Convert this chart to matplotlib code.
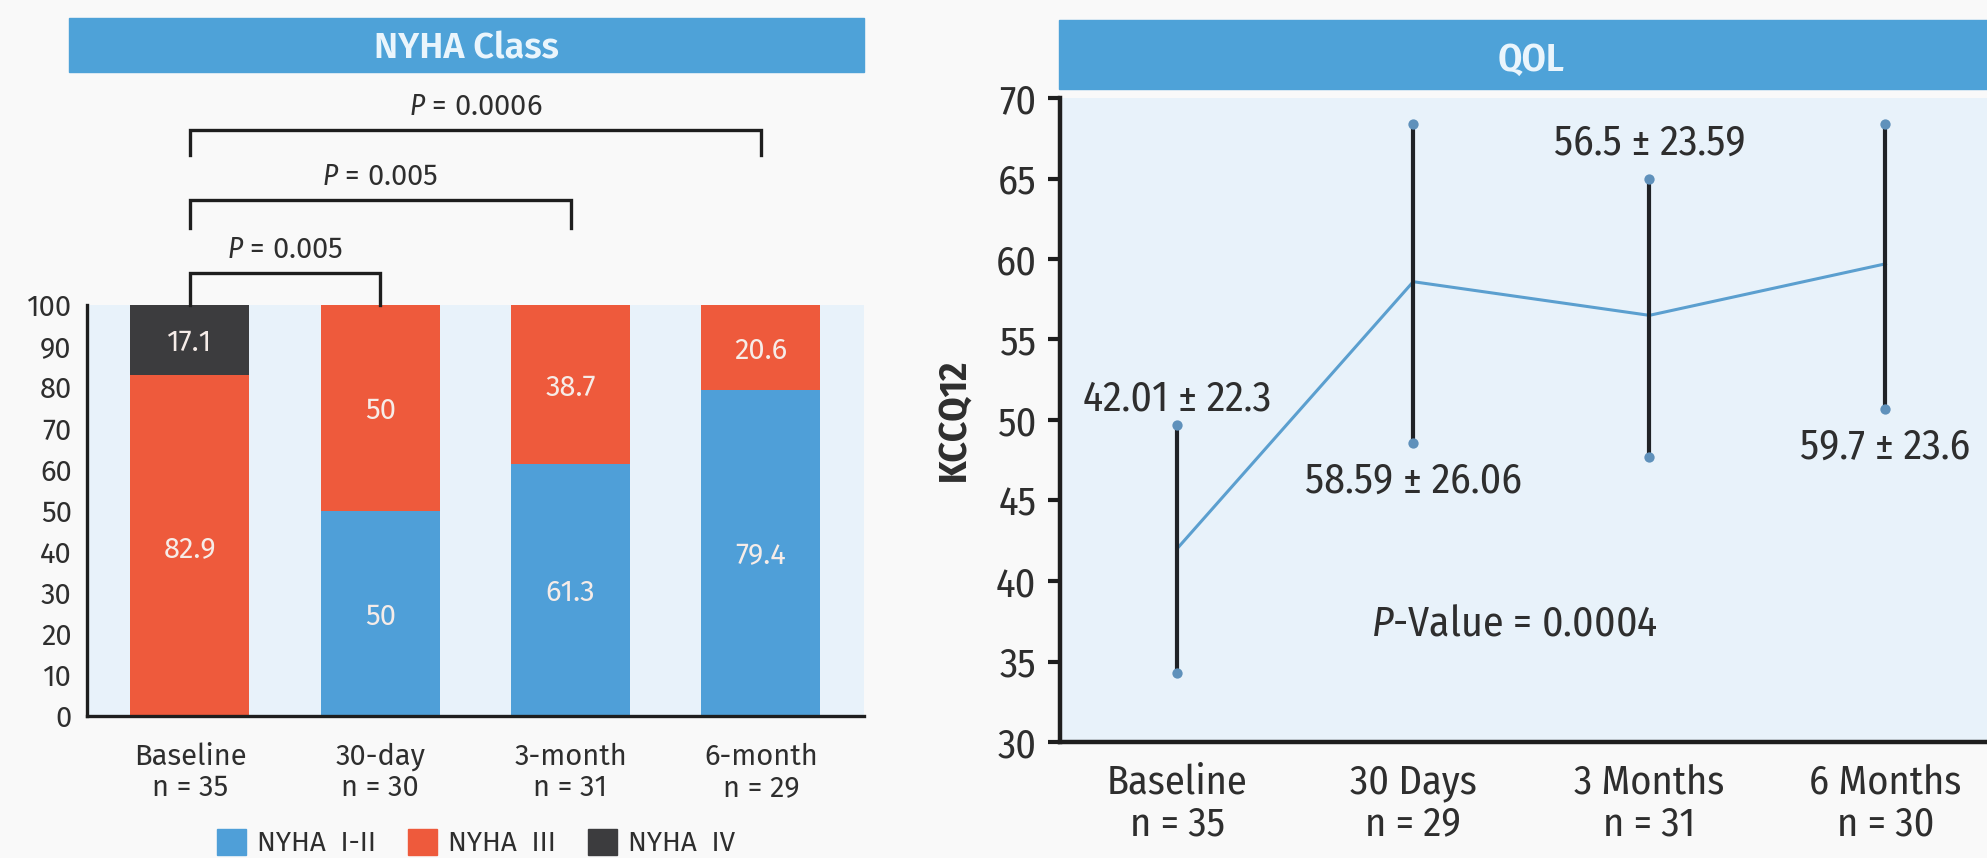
import matplotlib
matplotlib.use("Agg")
import matplotlib.pyplot as plt
from matplotlib.patches import Rectangle, Patch

WIDE = ["Fira Sans", "DejaVu Sans"]
COND = ["Fira Sans Condensed", "DejaVu Sans"]
plt.rcParams["font.family"] = COND
plt.rcParams["mathtext.fontset"] = "custom"
plt.rcParams["mathtext.rm"] = "Fira Sans Condensed"
plt.rcParams["mathtext.it"] = "Fira Sans Condensed:italic"

# NYHA class (% of patients)
nyha_cats = ["Baseline\nn = 35", "30-day\nn = 30", "3-month\nn = 31", "6-month\nn = 29"]
nyha_1_2 = [0, 50, 61.3, 79.4]
nyha_3 = [82.9, 50, 38.7, 20.6]
nyha_4 = [17.1, 0, 0, 0]
nyha_names = ["NYHA  I-II", "NYHA  III", "NYHA  IV"]

# pairwise comparisons vs baseline
p_pairs = [(0, 3), (0, 2), (0, 1)]
p_texts = ["0.0006", "0.005", "0.005"]

# KCCQ12 quality of life
qol_cats = ["Baseline\nn = 35", "30 Days\nn = 29", "3 Months\nn = 31", "6 Months\nn = 30"]
kccq_mean = [42.01, 58.59, 56.5, 59.7]
kccq_sd = [22.3, 26.06, 23.59, 23.6]
kccq_low = [34.3, 48.6, 47.7, 50.7]
kccq_high = [49.7, 68.4, 65.0, 68.4]
qol_p = "0.0004"

BLUE = "#4f9fd8"
RED = "#ee5a3c"
DARK = "#3c3c3e"
BG = "#e8f2fa"
TXT = "#2e2e2e"

W, H = 1987, 858
fig = plt.figure(figsize=(W / 100, H / 100), dpi=100, facecolor="#f9f9f9")


def fx(px):
    return px / W


def fy(py):
    return 1 - py / H


# ---------- left: NYHA class ----------
ax1 = fig.add_axes([fx(87), fy(716), fx(864 - 87), (716 - 305) / H])
ax1.set_facecolor(BG)
x = range(len(nyha_cats))
bw = 0.625
ax1.bar(x, nyha_1_2, bw, color=BLUE, zorder=2)
ax1.bar(x, nyha_3, bw, bottom=nyha_1_2, color=RED, zorder=2)
bottom4 = [a + b for a, b in zip(nyha_1_2, nyha_3)]
ax1.bar(x, nyha_4, bw, bottom=bottom4, color=DARK, zorder=2)

for i in x:
    segs = [(0, nyha_1_2[i]), (nyha_1_2[i], nyha_3[i]), (bottom4[i], nyha_4[i])]
    for lo, h in segs:
        if h > 0:
            ax1.text(i, lo + h / 2, f"{h:g}", ha="center", va="center_baseline",
                     color="#f6ece8", fontsize=21, family=WIDE)

ax1.set_xlim(-0.541, 3.542)
ax1.set_ylim(0, 100)
ax1.set_yticks(range(0, 101, 10))
ax1.set_xticks(list(x))
ax1.set_xticklabels(nyha_cats, linespacing=1.1, family=WIDE)
ax1.set_yticklabels([str(v) for v in range(0, 101, 10)], family=WIDE)
ax1.tick_params(axis="y", length=0, pad=11, labelsize=21, labelcolor=TXT)
ax1.tick_params(axis="x", length=0, pad=19, labelsize=21, labelcolor=TXT)
for s in ["top", "right"]:
    ax1.spines[s].set_visible(False)
for s in ["left", "bottom"]:
    ax1.spines[s].set_linewidth(2.4)
    ax1.spines[s].set_color("#1e1e1e")

# significance brackets
br_top = [142.6, 125.5, 107.8]
br_leg = [136.5, 118.7, 100]
for (a, b), t, yt, yl in zip(p_pairs, p_texts, br_top, br_leg):
    ax1.plot([a, a, b, b], [yl, yt, yt, yl], color="#1e1e1e", lw=2.4,
             clip_on=False, solid_joinstyle="miter")
    ax1.text((a + b) / 2, yt + 2.2, rf"$\it{{P}}$ = {t}", ha="center",
             va="bottom", fontsize=21, color=TXT, clip_on=False, family=WIDE)

handles = [Patch(color=c) for c in (BLUE, RED, DARK)]
fig.legend(handles, nyha_names, loc="center", bbox_to_anchor=(fx(476), fy(843)),
           ncol=3, frameon=False, prop={"family": WIDE, "size": 20},
           handlelength=1.05, handleheight=1.05,
           handletextpad=0.4, columnspacing=1.15, labelcolor=TXT)

fig.patches.append(Rectangle((fx(69), fy(72)), fx(864 - 69), 54 / H,
                             transform=fig.transFigure, color="#4ea2d8"))
fig.text(fx(466), fy(45), "NYHA Class", ha="center", va="center_baseline",
         fontsize=26, fontweight="semibold", color="#eaf5fc", family=WIDE)

# ---------- right: QOL ----------
ax2 = fig.add_axes([fx(1060), fy(742), fx(W - 1060), (742 - 98) / H])
ax2.set_facecolor(BG)
xq = list(range(len(qol_cats)))
ax2.plot(xq, kccq_mean, color="#5b9fcf", lw=2.2, zorder=2)
ax2.vlines(xq, kccq_low, kccq_high, color="#1f2226", lw=3.0, zorder=3)
ax2.scatter(xq + xq, kccq_low + kccq_high, s=55, color="#5f91bb", zorder=4,
            linewidths=0)

lab_y = [51.6, 46.5, 67.5, 48.6]
for i in xq:
    ax2.text(i, lab_y[i], f"{kccq_mean[i]:g} ± {kccq_sd[i]:g}", ha="center",
             va="center_baseline", fontsize=30, color=TXT)
ax2.text(1.43, 37.6, rf"$\it{{P}}$-Value = {qol_p}", ha="center",
         va="center_baseline", fontsize=30, color=TXT)

ax2.set_xlim(-0.496, 3.43)
ax2.set_ylim(30, 70)
ax2.set_yticks(range(30, 71, 5))
ax2.set_xticks(xq)
ax2.set_xticklabels(qol_cats, linespacing=1.1)
ax2.tick_params(axis="y", length=9, width=3, pad=8, labelsize=29,
                labelcolor=TXT, color="#1e1e1e")
ax2.tick_params(axis="x", length=0, pad=15, labelsize=29, labelcolor=TXT)
for s in ["top", "right"]:
    ax2.spines[s].set_visible(False)
for s in ["left", "bottom"]:
    ax2.spines[s].set_linewidth(3.2)
    ax2.spines[s].set_color("#1e1e1e")
ax2.set_ylabel("KCCQ12", fontsize=28, fontweight="bold", color=TXT, labelpad=16)

fig.patches.append(Rectangle((fx(1059), fy(89)), fx(W - 1059), 69 / H,
                             transform=fig.transFigure, color="#4ea2d8"))
fig.text(fx(1531), fy(56), "QOL", ha="center", va="center_baseline",
         fontsize=28, fontweight="semibold", color="#eaf5fc")

fig.savefig("out.png", dpi=100, facecolor=fig.get_facecolor())
